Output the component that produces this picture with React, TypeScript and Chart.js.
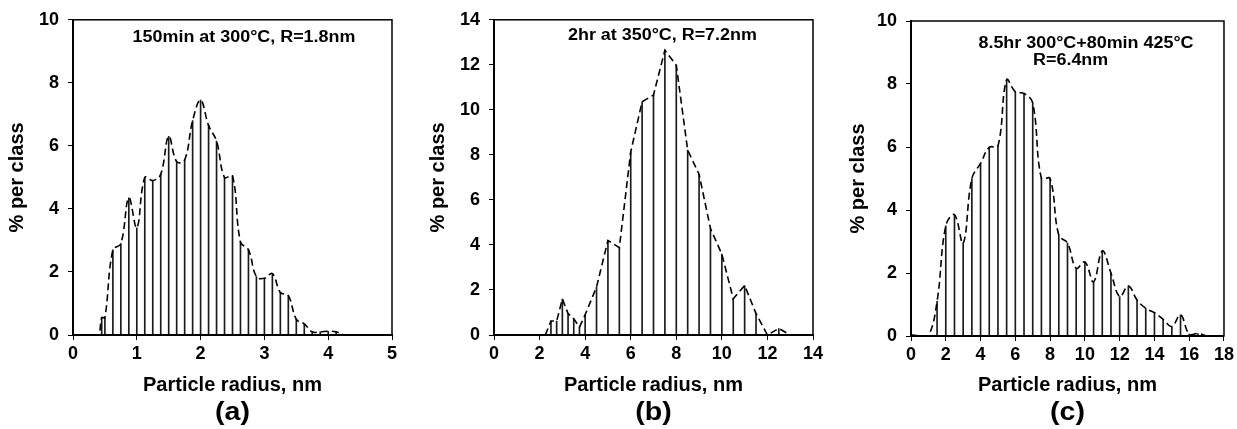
import React, { useEffect, useRef } from "react";
import { Chart, registerables } from "chart.js";

Chart.register(...registerables);
Chart.defaults.color = "#000";

const FAMILY = "'Liberation Sans', Arial, Helvetica, sans-serif";

// ---------- Panel (a) ----------
const radiusA = [0.3, 0.4, 0.45, 0.5, 0.625, 0.75, 0.875, 1.0, 1.125, 1.25, 1.375, 1.5, 1.625, 1.75, 1.875, 2.0, 2.125, 2.25, 2.375, 2.5, 2.625, 2.75, 2.875, 3.0, 3.125, 3.25, 3.375, 3.5, 3.625, 3.75, 3.875, 4.0, 4.125, 4.25];
const percentA = [0, 0, 0.55, 0.55, 2.7, 2.9, 4.35, 3.4, 5.0, 4.9, 5.1, 6.3, 5.5, 5.55, 6.8, 7.45, 6.65, 6.15, 5.0, 5.05, 2.95, 2.7, 1.85, 1.8, 1.95, 1.35, 1.25, 0.5, 0.35, 0.1, 0.1, 0.12, 0.1, 0];
const xTicksA = [0, 1, 2, 3, 4, 5];
const yTicksA = [0, 2, 4, 6, 8, 10];
const noteA = ["150min at 300°C, R=1.8nm"];

// ---------- Panel (b) ----------
const radiusB = [2.25, 2.5, 2.75, 3.0, 3.25, 3.5, 3.75, 4.0, 4.5, 5.0, 5.5, 6.0, 6.5, 7.0, 7.5, 8.0, 8.5, 9.0, 9.5, 10.0, 10.5, 11.0, 11.5, 12.0, 12.5, 13.0];
const percentB = [0, 0.62, 0.62, 1.6, 0.95, 0.72, 0.35, 0.9, 2.13, 4.2, 3.88, 8.13, 10.36, 10.66, 12.65, 11.98, 8.21, 7.14, 4.73, 3.59, 1.61, 2.2, 0.95, 0, 0.29, 0];
const xTicksB = [0, 2, 4, 6, 8, 10, 12, 14];
const yTicksB = [0, 2, 4, 6, 8, 10, 12, 14];
const noteB = ["2hr at 350°C, R=7.2nm"];

// ---------- Panel (c) ----------
const radiusC = [0, 0.5, 1.0, 1.5, 2.0, 2.5, 3.0, 3.5, 4.0, 4.5, 5.0, 5.5, 6.0, 6.5, 7.0, 7.5, 8.0, 8.5, 9.0, 9.5, 10.0, 10.5, 11.0, 11.5, 12.0, 12.5, 13.0, 13.5, 14.0, 14.5, 15.0, 15.5, 16.0, 16.5, 17.0];
const percentC = [0.04, 0, 0, 1.1, 3.5, 3.85, 2.94, 5.0, 5.48, 5.99, 6.03, 8.13, 7.75, 7.7, 7.4, 5.0, 5.0, 3.2, 2.95, 2.15, 2.35, 1.72, 2.7, 2.0, 1.25, 1.59, 1.14, 0.88, 0.74, 0.53, 0.3, 0.67, 0.06, 0.08, 0];
const xTicksC = [0, 2, 4, 6, 8, 10, 12, 14, 16, 18];
const yTicksC = [0, 2, 4, 6, 8, 10];
const noteC = ["8.5hr 300°C+80min 425°C", "R=6.4nm"];

const X_TITLE = "Particle radius, nm";
const Y_TITLE = "% per class";

type Spec = {
  radius: number[];
  percent: number[];
  xTicks: number[];
  yTicks: number[];
  note: string[];
  noteAt: { fx: number; dy: number }[];
  letter: string;
  smooth: number;
  left: number;
  width: number;
  area: { left: number; top: number; right: number; bottom: number };
  yTitleCenter: number;
};

const H = 429;
const XBOX_BOTTOM = 397.4;
const LETTER_Y = 413;

const specs: Spec[] = [
  {
    radius: radiusA, percent: percentA, xTicks: xTicksA, yTicks: yTicksA,
    note: noteA, noteAt: [{ fx: 0.536, dy: 18 }], letter: "(a)", smooth: 0.4,
    left: 0, width: 410, area: { left: 73, top: 16, right: 392, bottom: 335 }, yTitleCenter: 17,
  },
  {
    radius: radiusB, percent: percentB, xTicks: xTicksB, yTicks: yTicksB,
    note: noteB, noteAt: [{ fx: 0.528, dy: 16 }], letter: "(b)", smooth: 0,
    left: 410, width: 420, area: { left: 494, top: 17, right: 813, bottom: 335 }, yTitleCenter: 438.5,
  },
  {
    radius: radiusC, percent: percentC, xTicks: xTicksC, yTicks: yTicksC,
    note: noteC, noteAt: [{ fx: 0.559, dy: 23 }, { fx: 0.51, dy: 40 }], letter: "(c)", smooth: 0.4,
    left: 830, width: 407, area: { left: 911, top: 21, right: 1226, bottom: 336 }, yTitleCenter: 858,
  },
];

const framePlugin = {
  id: "frame",
  afterDraw(chart: any) {
    const { ctx, chartArea: c } = chart;
    ctx.save();
    ctx.strokeStyle = "#000";
    ctx.lineWidth = 1.5;
    ctx.strokeRect(c.left, c.top, c.right - c.left, c.bottom - c.top);
    ctx.restore();
  },
};

function makeTextPlugin(spec: Spec) {
  return {
    id: "panelText",
    afterDraw(chart: any) {
      const { ctx, chartArea: c } = chart;
      ctx.save();
      ctx.fillStyle = "#000";
      ctx.textAlign = "center";
      ctx.textBaseline = "middle";
      ctx.font = `bold 16px ${FAMILY}`;
      spec.note.forEach((line, i) => {
        const pos = spec.noteAt[i];
        const x = c.left + pos.fx * (c.right - c.left);
        const y = c.top + pos.dy;
        ctx.save();
        ctx.translate(x, y);
        ctx.scale(1.12, 1);
        ctx.fillText(line, 0, 0);
        ctx.restore();
      });
      ctx.font = `bold 26px ${FAMILY}`;
      ctx.save();
      ctx.translate((c.left + c.right) / 2, LETTER_Y);
      ctx.scale(1.1, 1);
      ctx.fillText(spec.letter, 0, 0);
      ctx.restore();
      ctx.restore();
    },
  };
}

function Panel({ spec }: { spec: Spec }) {
  const ref = useRef<HTMLCanvasElement>(null);
  useEffect(() => {
    const canvas = ref.current;
    if (!canvas) return;
    const pts = spec.radius.map((r, i) => ({ x: r, y: spec.percent[i] }));
    const a = spec.area;
    const xMin = spec.xTicks[0];
    const xMax = spec.xTicks[spec.xTicks.length - 1];
    const yMin = spec.yTicks[0];
    const yMax = spec.yTicks[spec.yTicks.length - 1];
    const chart = new Chart(canvas, {
      type: "bar",
      data: {
        datasets: [
          {
            type: "line",
            data: pts,
            borderColor: "#000",
            borderWidth: 1.6,
            borderDash: [7, 4],
            pointRadius: 0,
            tension: spec.smooth,
            fill: false,
            order: 0,
          } as any,
          {
            type: "bar",
            data: pts.filter((p) => p.y > 0),
            backgroundColor: "#1a1a1a",
            barThickness: 1,
            order: 1,
          } as any,
        ],
      },
      options: {
        responsive: false,
        animation: false,
        layout: {
          padding: { top: a.top, right: spec.width - (a.right - spec.left), left: 0, bottom: H - XBOX_BOTTOM },
        },
        plugins: {
          legend: { display: false },
          tooltip: { enabled: false },
          title: { display: false },
        },
        scales: {
          x: {
            type: "linear",
            min: xMin,
            max: xMax,
            offset: false,
            afterBuildTicks: (s: any) => {
              s.ticks = spec.xTicks.map((v) => ({ value: v }));
            },
            afterFit: (s: any) => {
              s.height = XBOX_BOTTOM - a.bottom;
            },
            grid: { display: true, drawOnChartArea: false, drawTicks: true, tickLength: 5, color: "#000", lineWidth: 1, offset: false },
            border: { display: true, color: "#000", width: 2 },
            ticks: { color: "#000", padding: 3, maxRotation: 0, autoSkip: false, font: { family: FAMILY, size: 18, weight: "bold" } },
            title: {
              display: true,
              text: X_TITLE,
              color: "#000",
              font: { family: FAMILY, size: 20, weight: "bold" },
              padding: { top: 0, bottom: 0.4 },
            },
          },
          y: {
            type: "linear",
            min: yMin,
            max: yMax,
            afterBuildTicks: (s: any) => {
              s.ticks = spec.yTicks.map((v) => ({ value: v }));
            },
            afterFit: (s: any) => {
              s.width = a.left - spec.left;
            },
            grid: { display: true, drawOnChartArea: false, drawTicks: true, tickLength: 5, color: "#000", lineWidth: 1 },
            border: { display: true, color: "#000", width: 2 },
            ticks: { color: "#000", padding: 9, font: { family: FAMILY, size: 18, weight: "bold" } },
            title: {
              display: true,
              text: Y_TITLE,
              color: "#000",
              font: { family: FAMILY, size: 20, weight: "bold" },
              padding: { top: spec.yTitleCenter - spec.left - 12, bottom: 0 },
            },
          },
        },
      } as any,
      plugins: [framePlugin, makeTextPlugin(spec)],
    });
    return () => chart.destroy();
  }, [spec]);
  return (
    <canvas
      ref={ref}
      width={spec.width}
      height={H}
      style={{ position: "absolute", left: spec.left, top: 0, width: spec.width, height: H }}
    />
  );
}

export default function App() {
  return (
    <div style={{ position: "absolute", left: 0, top: 0, width: 1237, height: H, background: "#fff", overflow: "hidden" }}>
      {specs.map((s) => (
        <Panel key={s.letter} spec={s} />
      ))}
    </div>
  );
}
